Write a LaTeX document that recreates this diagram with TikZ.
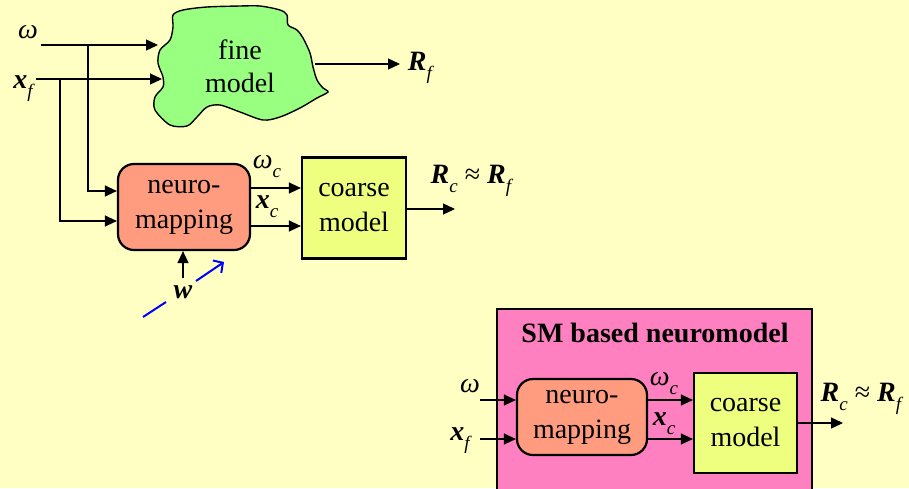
\documentclass[tikz,border=0pt]{standalone}
\usepackage{fontspec}
\setmainfont{Liberation Serif}
\usetikzlibrary{arrows.meta}
\definecolor{paper}{HTML}{FFFFC4}
\definecolor{finegreen}{HTML}{99FF80}
\definecolor{salmon}{HTML}{FF9C80}
\definecolor{lime}{HTML}{EEFF80}
\definecolor{pinkbg}{HTML}{FF80C0}
% subscript set lower and smaller, as in the slide
\newcommand\lowsub[1]{\raisebox{-0.32em}{\fontsize{19}{19}\selectfont\textit{#1}}}
\newcommand\bvec[1]{\textbf{\textit{#1}}}
\tikzset{
  arr/.style={line width=1.3pt,-{Triangle[length=12pt,width=11pt]}},
  neurobox/.style={draw,line width=2.2pt,fill=salmon,rounded corners=16pt,
    minimum width=132pt,minimum height=86pt,align=center,
    font=\rmfamily\fontsize{28}{35}\selectfont},
  coarsebox/.style={draw,line width=2.2pt,fill=lime,
    minimum width=104pt,minimum height=101pt,align=center,
    font=\rmfamily\fontsize{28}{35}\selectfont},
  lbl/.style={inner sep=0pt,font=\rmfamily\fontsize{28}{30}\selectfont},
  bluearr/.style={draw=blue,line width=2pt},
}
\begin{document}
\begin{tikzpicture}[x=1pt,y=-1pt]
\fill[paper] (0,0) rectangle (909,488);
\useasboundingbox (0,0) rectangle (909,488);

% ---- fine model (irregular blob) ----
\draw[line width=1.4pt,fill=finegreen] plot[smooth cycle,tension=0.5] coordinates {
  (173,15) (183,10) (207,7) (240,6) (260,6) (280,10) (287,15) (288,25)
  (297,30) (303,38) (310,53) (313,67) (317,80) (323,88) (328,92)
  (317,98) (300,108) (280,117) (263,120) (240,112) (220,105) (207,107)
  (197,117) (187,126) (170,125) (155,110) (155,97) (163,87) (163,77)
  (158,63) (160,50) (170,40) (173,27)};
\node[align=center,font=\rmfamily\fontsize{28}{33}\selectfont] (fine) at (240,66) {fine\\model};

% ---- inputs ----
\node[lbl] (om) at (28,32) {\textit{ω}};
\node[lbl] (xf) at (24,89) {\bvec{x}\lowsub{f}};
\coordinate (fineA) at (158,45);
\coordinate (fineB) at (162,79);
\draw[arr] (41,45) -- (fineA);
\draw[arr] (36,79) -- (fineB);

% ---- fine model output ----
\node[lbl] (Rf) at (421,68) {\bvec{R}\lowsub{f}};
\draw[arr] (315,64) -- (400,64);

% ---- upper neuro-mapping chain ----
\node[neurobox] (nm1) at (184,207) {neuro-\\mapping};
\node[coarsebox] (cm1) at (354,208) {coarse\\model};
\draw[arr] (88,45) |- (nm1.west |- 0,191);
\draw[arr] (60,79) |- (nm1.west |- 0,221);
\draw[arr] (nm1.east |- 0,188) -- (cm1.west |- 0,188);
\draw[arr] (nm1.east |- 0,226) -- (cm1.west |- 0,226);
\node[lbl] (omc1) at (267,167) {\textit{ω}\lowsub{c}};
\node[lbl] (xc1) at (267,207) {\bvec{x}\lowsub{c}};
\coordinate (out1) at (455,209);
\draw[arr] (cm1.east |- out1) -- (out1);
\node[lbl] (R1) at (472,181) {\bvec{R}\lowsub{c} ≈ \bvec{R}\lowsub{f}};

% ---- weights ----
\node[lbl] (w) at (183,292) {\bvec{w}};
\draw[arr] (183,278) -- (nm1.south -| 183,0);
\coordinate (b0) at (143,317);
\coordinate (b1) at (166,302);
\coordinate (b2) at (196,281);
\coordinate (b3) at (224,262);
\draw[bluearr] (b0) -- (b1);
\draw[bluearr,-{Straight Barb[length=7pt,width=15pt]}] (b2) -- (b3);

% ---- SM based neuromodel ----
\draw[line width=1.3pt,fill=pinkbg] (497,309) rectangle (812,500);
\node[lbl,font=\rmfamily\fontsize{28}{30}\selectfont\bfseries] (title) at (655,333) {SM based neuromodel};
\node[neurobox,minimum height=76pt,minimum width=130pt] (nm2) at (582,417) {neuro-\\mapping};
\node[coarsebox,minimum height=100pt,minimum width=103pt] (cm2) at (745.5,423) {coarse\\model};
\node[lbl] (om2) at (470,386) {\textit{ω}};
\node[lbl] (xf2) at (461,441) {\bvec{x}\lowsub{f}};
\draw[arr] (480,400) -- (nm2.west |- 0,400);
\draw[arr] (480,439) -- (nm2.west |- 0,439);
\draw[arr] (nm2.east |- 0,400) -- (cm2.west |- 0,400);
\draw[arr] (nm2.east |- 0,439) -- (cm2.west |- 0,439);
\node[lbl] (omc2) at (664,384) {\textit{ω}\lowsub{c}};
\node[lbl] (xc2) at (664,424) {\bvec{x}\lowsub{c}};
\coordinate (out2) at (843,423);
\draw[arr] (cm2.east |- out2) -- (out2);
\node[lbl] (R2) at (862,399) {\bvec{R}\lowsub{c} ≈ \bvec{R}\lowsub{f}};
\end{tikzpicture}
\end{document}
